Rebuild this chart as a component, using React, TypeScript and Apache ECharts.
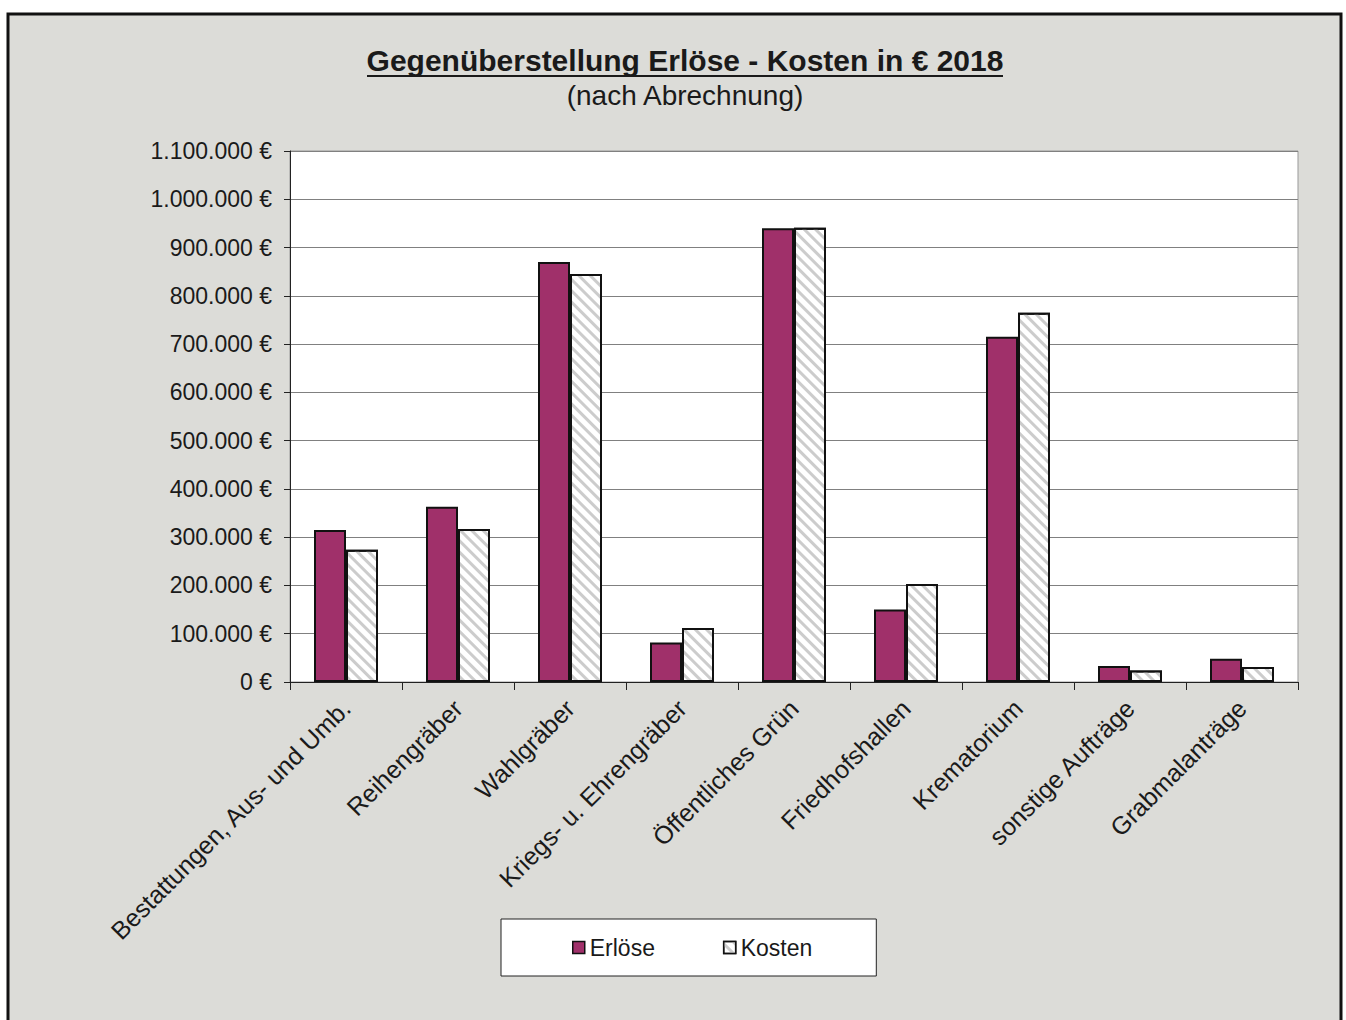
import React, { useEffect, useRef } from "react";
import * as echarts from "echarts";

const categories = [
  "Bestattungen, Aus- und Umb.",
  "Reihengräber",
  "Wahlgräber",
  "Kriegs- u. Ehrengräber",
  "Öffentliches Grün",
  "Friedhofshallen",
  "Krematorium",
  "sonstige Aufträge",
  "Grabmalanträge",
];
const erloese = [315000, 363000, 870000, 82000, 940000, 150000, 715000, 33000, 48000];
const kosten = [274000, 317000, 845000, 112000, 941000, 203000, 765000, 24000, 31000];

const titleText = "Gegenüberstellung Erlöse - Kosten in € 2018";
const subtitleText = "(nach Abrechnung)";

const fmt = (v: number) =>
  (v === 0 ? "0" : String(v).replace(/\B(?=(\d{3})+(?!\d))/g, ".")) + " €";

export default function App() {
  const ref = useRef<HTMLDivElement>(null);
  useEffect(() => {
    document.body.style.margin = "0";
    const chart = echarts.init(ref.current!, null, { renderer: "svg" });
    const font = "Liberation Sans, Arial, sans-serif";
    chart.setOption({
      animation: false,
      backgroundColor: "#ffffff",
      textStyle: { fontFamily: font },
      graphic: [
        {
          type: "rect",
          z: -10,
          shape: { x: 8, y: 14, width: 1333, height: 1010 },
          style: { fill: "#dcdcd8", stroke: "#111", lineWidth: 3 },
        },
        {
          type: "text",
          x: 685,
          y: 60,
          style: {
            text: titleText,
            font: "bold 30px " + font,
            fill: "#1a1a1a",
            textAlign: "center",
            textVerticalAlign: "middle",
          },
        },
        {
          type: "line",
          shape: { x1: 367, y1: 76, x2: 1003, y2: 76 },
          style: { stroke: "#1a1a1a", lineWidth: 2 },
        },
        {
          type: "text",
          x: 685,
          y: 95,
          style: {
            text: subtitleText,
            font: "28px " + font,
            fill: "#1a1a1a",
            textAlign: "center",
            textVerticalAlign: "middle",
          },
        },
      ],
      grid: {
        left: 290,
        top: 151,
        right: 48,
        bottom: 338,
        show: true,
        backgroundColor: "#ffffff",
        borderColor: "#999",
        borderWidth: 1,
      },
      legend: {
        left: 501,
        top: 919,
        orient: "horizontal",
        icon: "rect",
        itemWidth: 12,
        itemHeight: 12,
        itemGap: 68,
        backgroundColor: "#ffffff",
        borderColor: "#222",
        borderWidth: 1,
        padding: [17, 64, 17, 71],
        textStyle: { fontSize: 23, color: "#1a1a1a", fontFamily: font, padding: [0, 0, 0, 0] },
        data: [
          { name: "Erlöse", itemStyle: { color: "#a0306a", borderColor: "#111", borderWidth: 1.5 } },
          { name: "Kosten", itemStyle: { color: "#ffffff", borderColor: "#111", borderWidth: 1.5, decal: null } },
        ],
      },
      xAxis: {
        type: "category",
        data: categories,
        axisLine: { lineStyle: { color: "#222", width: 1 } },
        axisTick: { show: true, length: 8, lineStyle: { color: "#222" } },
        axisLabel: {
          rotate: 45,
          fontSize: 25,
          color: "#1a1a1a",
          margin: 22,
          interval: 0,
          fontFamily: font,
        },
      },
      yAxis: {
        type: "value",
        min: 0,
        max: 1100000,
        interval: 100000,
        axisLine: { show: true, lineStyle: { color: "#222" } },
        axisTick: { show: true, inside: false, length: 6, lineStyle: { color: "#222" } },
        splitLine: { lineStyle: { color: "#808080", width: 1 } },
        axisLabel: {
          formatter: fmt,
          fontSize: 23,
          color: "#1a1a1a",
          margin: 18,
          fontFamily: font,
        },
      },
      series: [
        {
          name: "Erlöse",
          type: "bar",
          data: erloese,
          barWidth: 32,
          barGap: "0%",
          itemStyle: { color: "#a0306a", borderColor: "#111", borderWidth: 2 },
        },
        {
          name: "Kosten",
          type: "bar",
          data: kosten,
          barWidth: 32,
          barGap: "0%",
          itemStyle: {
            color: "#ffffff",
            borderColor: "#111",
            borderWidth: 2,
            decal: {
              symbol: "rect",
              symbolSize: 1,
              dashArrayX: [1, 0],
              dashArrayY: [3, 5],
              rotation: Math.PI / 4,
              color: "#cccccc",
              backgroundColor: "#ffffff",
            },
          },
        },
      ],
    });
    return () => chart.dispose();
  }, []);
  return <div ref={ref} style={{ width: 1346, height: 1020 }} />;
}
